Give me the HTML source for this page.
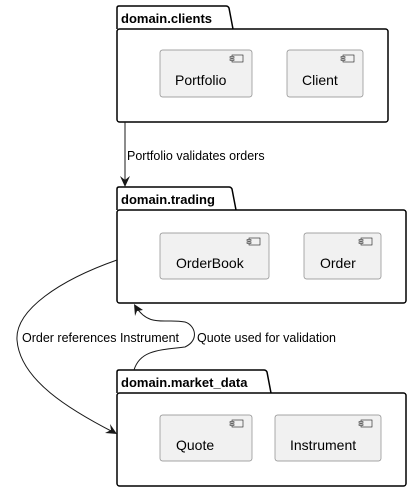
<!DOCTYPE html>
<html><head><style>
body{margin:0;background:#fff;}
svg text{font-family:"Liberation Sans",sans-serif;}
</style></head><body>
<svg width="412" height="492" xmlns="http://www.w3.org/2000/svg">
<defs>
<g id="ic"><rect x="0" y="0" width="11" height="7" fill="#f1f1f1" stroke="#181818" stroke-width="0.6"/><rect x="-2" y="1.5" width="4" height="1.5" fill="#f1f1f1" stroke="#181818" stroke-width="0.5"/><rect x="-2" y="4" width="4" height="1.5" fill="#f1f1f1" stroke="#181818" stroke-width="0.5"/></g>
</defs>
<g fill="#fff" stroke="#000" stroke-width="1.5">
<path d="M117,29 V8 Q117,6 119,6 H226 Q228,6 229,8 L233,29"/>
<rect x="117" y="29" width="271" height="93" rx="2.5"/>
<path d="M117,210 V189 Q117,187 119,187 H229 Q231,187 232,189 L236,210"/>
<rect x="117" y="210" width="289" height="93" rx="2.5"/>
<path d="M117,393 V372 Q117,370 119,370 H264 Q266,370 267,372 L271,393"/>
<rect x="117" y="393" width="289" height="93" rx="2.5"/>
</g>
<g font-weight="bold" font-size="13" fill="#000">
<text x="121" y="23">domain.clients</text>
<text x="121" y="204">domain.trading</text>
<text x="121" y="387">domain.market_data</text>
</g>
<g fill="#f1f1f1" stroke="#888" stroke-width="0.7">
<rect x="160" y="50" width="92" height="47" rx="2.5"/>
<rect x="287" y="50" width="76" height="47" rx="2.5"/>
<rect x="160" y="233" width="109" height="46" rx="2.5"/>
<rect x="304" y="233" width="77" height="46" rx="2.5"/>
<rect x="160" y="415" width="92" height="46" rx="2.5"/>
<rect x="275" y="415" width="106" height="46" rx="2.5"/>
</g>
<use href="#ic" x="232" y="55"/><use href="#ic" x="343" y="55"/>
<use href="#ic" x="249" y="238"/><use href="#ic" x="361" y="238"/>
<use href="#ic" x="232" y="420"/><use href="#ic" x="361" y="420"/>
<g font-size="14" fill="#000">
<text x="175" y="85">Portfolio</text>
<text x="302" y="85">Client</text>
<text x="176" y="268">OrderBook</text>
<text x="320" y="268">Order</text>
<text x="176" y="450">Quote</text>
<text x="290" y="450">Instrument</text>
</g>
<g fill="none" stroke="#181818" stroke-width="1">
<path d="M125,122 V185"/>
<path d="M117,260 C60,280 15,310 17,340 C20,380 70,410 115,433"/>
<path d="M134,370 C140,350 160,350 185,347 C200,340 195,325 185,322 C165,318 150,328 136,307"/>
</g>
<g fill="#181818">
<path d="M125,187 L120,176 L125,180 L130,176 Z"/>
<path d="M117,434 L105,433 L111,430 L110,424 Z"/>
<path d="M134,304 L135,316 L137,311 L143,310 Z"/>
</g>
<g font-size="12.5" fill="#000">
<text x="127" y="160">Portfolio validates orders</text>
<text x="22" y="342">Order references Instrument</text>
<text x="197" y="342">Quote used for validation</text>
</g>
</svg>
</body></html>
